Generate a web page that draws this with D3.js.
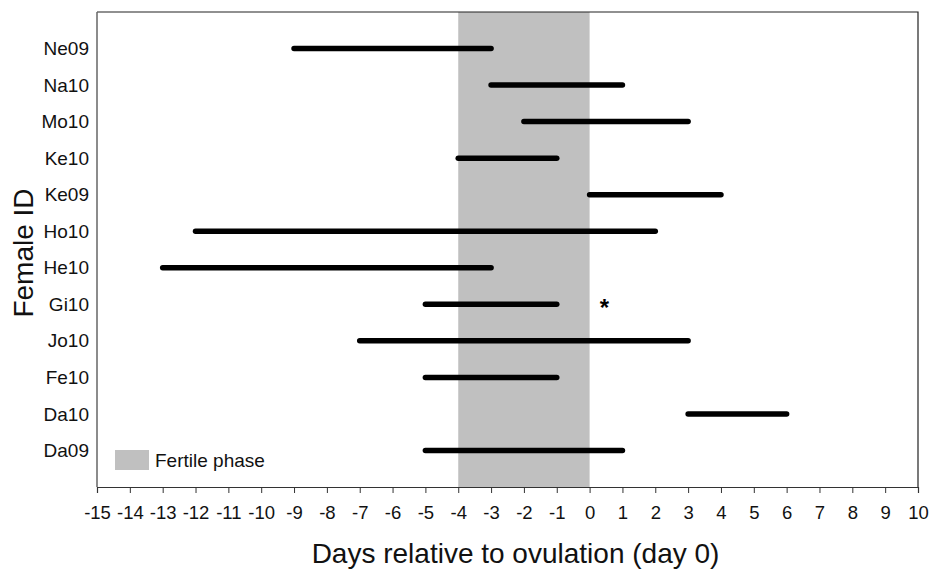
<!DOCTYPE html>
<html>
<head>
<meta charset="utf-8">
<script src="https://cdn.jsdelivr.net/npm/d3@7"></script>
<style>
  body { margin: 0; background: #fff; }
  text { font-family: "Liberation Sans", Arial, sans-serif; }
</style>
</head>
<body>
<div id="chart"></div>
<script>
// female IDs, top to bottom
var females = ["Ne09","Na10","Mo10","Ke10","Ke09","Ho10","He10","Gi10","Jo10","Fe10","Da10","Da09"]
// start / end of each bar (days relative to ovulation)
var startDay = [-9,-3,-2,-4,0,-12,-13,-5,-7,-5,3,-5]
var endDay   = [-3, 1, 3,-1,4,  2, -3,-1, 3,-1,6, 1]
// fertile phase
var fertile = [-4, 0]
// x ticks
var xTicks = d3.range(-15, 11)
// asterisk marker
var starDay = 0.45, starRow = "Gi10"

var width = 931, height = 573
var plotLeft = 97, plotRight = 918, plotTop = 12, plotBottom = 487

var svg = d3.select("#chart")
    .append("svg")
    .attr("width", width)
    .attr("height", height)

var x = d3.scaleLinear()
    .domain([-15, 10])
    .range([plotLeft, plotRight])

var y = d3.scaleLinear()
    .domain([0, females.length + 1])
    .range([plotTop, plotBottom])

function rowY(name) { return y(females.indexOf(name) + 1) }

// fertile phase shading
svg.append("rect")
    .attr("x", x(fertile[0]))
    .attr("y", plotTop)
    .attr("width", x(fertile[1]) - x(fertile[0]))
    .attr("height", plotBottom - plotTop)
    .style("fill", "#c0c0c0")

// frame
svg.append("path")
    .attr("d", `M${plotLeft},${plotTop}H${plotRight}V${plotBottom}`)
    .style("fill", "none")
    .style("stroke", "#222")
    .style("stroke-width", 1.2)
svg.append("line")
    .attr("x1", plotLeft).attr("x2", plotLeft)
    .attr("y1", plotTop).attr("y2", plotBottom)
    .style("stroke", "#666")
    .style("stroke-width", 1.5)

// x axis
var xAxis = svg.append("g")
    .attr("transform", `translate(0,${plotBottom})`)
    .call(d3.axisBottom(x).tickValues(xTicks).tickSize(6).tickPadding(13).tickFormat(d3.format("d")))
xAxis.select(".domain").style("stroke", "#333").style("stroke-width", 1.2)
xAxis.selectAll(".tick line").style("stroke", "#333")
xAxis.selectAll("text")
    .style("font-size", "18.5px")
    .style("fill", "#111")
    .style("font-family", "Liberation Sans, Arial, sans-serif")
    .text(function(d) { return d < 0 ? "-" + Math.abs(d) : d })

// y labels
svg.append("g")
    .selectAll("text")
    .data(females)
    .enter().append("text")
        .attr("x", 89)
        .attr("y", function(d) { return rowY(d) })
        .attr("dy", "0.35em")
        .style("text-anchor", "end")
        .style("font-size", "19px")
        .style("fill", "#111")
        .text(function(d) { return d })

// bars
svg.append("g")
    .selectAll("line")
    .data(females)
    .enter().append("line")
        .attr("x1", function(d, i) { return x(startDay[i]) })
        .attr("x2", function(d, i) { return x(endDay[i]) })
        .attr("y1", function(d) { return rowY(d) })
        .attr("y2", function(d) { return rowY(d) })
        .style("stroke", "#000")
        .style("stroke-width", 5.5)
        .style("stroke-linecap", "round")

// asterisk
svg.append("text")
    .attr("x", x(starDay))
    .attr("y", rowY(starRow) + 12)
    .style("text-anchor", "middle")
    .style("font-size", "24px")
    .style("font-weight", "bold")
    .text("*")

// legend
svg.append("rect")
    .attr("x", 115)
    .attr("y", 450)
    .attr("width", 34)
    .attr("height", 20)
    .style("fill", "#c0c0c0")
svg.append("text")
    .attr("x", 155)
    .attr("y", 460)
    .attr("dy", "0.35em")
    .style("font-size", "19px")
    .style("fill", "#111")
    .text("Fertile phase")

// axis titles
svg.append("text")
    .attr("x", (plotLeft + plotRight) / 2 + 8)
    .attr("y", 563)
    .style("text-anchor", "middle")
    .style("font-size", "28px")
    .style("fill", "#111")
    .text("Days relative to ovulation (day 0)")

svg.append("text")
    .attr("transform", `translate(33,253) rotate(-90)`)
    .style("text-anchor", "middle")
    .style("font-size", "28px")
    .style("fill", "#111")
    .text("Female ID")
</script>
</body>
</html>
